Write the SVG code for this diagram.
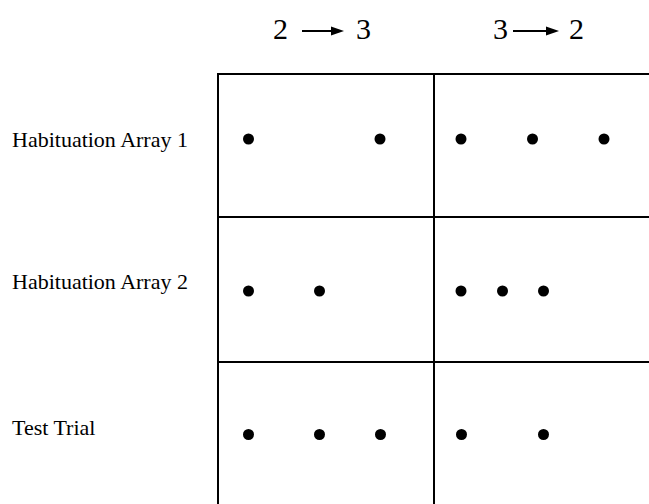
<svg xmlns="http://www.w3.org/2000/svg" width="649" height="504" viewBox="0 0 649 504">
<defs>
<style>
.lbl{font-family:"Liberation Serif","Times New Roman",serif;font-size:22px;fill:#000}
.hdr{font-family:"Liberation Serif","Times New Roman",serif;font-size:30px;fill:#000}
.grid{stroke:#000;stroke-width:2;fill:none}
.dot{fill:#000}
.arr{stroke:#000;stroke-width:2}
</style>
</defs>
<rect width="649" height="504" fill="#fff"/>
<g id="headers">
<g id="h1">
<text class="hdr" x="273" y="39">2</text>
<line class="arr" x1="302" y1="31" x2="334" y2="31"/>
<polygon points="331,26.5 344,31 331,35.5" fill="#000"/>
<text class="hdr" x="356" y="39">3</text>
</g>
<g id="h2">
<text class="hdr" x="493" y="39">3</text>
<line class="arr" x1="513" y1="31" x2="549" y2="31"/>
<polygon points="546,26.5 559,31 546,35.5" fill="#000"/>
<text class="hdr" x="569" y="39">2</text>
</g>
</g>
<g id="row-labels">
<text id="l1" class="lbl" x="12" y="147">Habituation Array 1</text>
<text id="l2" class="lbl" x="12" y="289">Habituation Array 2</text>
<text id="l3" class="lbl" x="12" y="435">Test Trial</text>
</g>
<g id="grid">
<line class="grid" x1="218" y1="74" x2="649" y2="74"/>
<line class="grid" x1="218" y1="217" x2="649" y2="217"/>
<line class="grid" x1="218" y1="362" x2="649" y2="362"/>
<line class="grid" x1="218" y1="73" x2="218" y2="504"/>
<line class="grid" x1="434" y1="73" x2="434" y2="504"/>
</g>
<g id="dots">
<circle class="dot" cx="248.5" cy="139" r="5.5"/>
<circle class="dot" cx="380" cy="139" r="5.5"/>
<circle class="dot" cx="461" cy="139" r="5.5"/>
<circle class="dot" cx="532.5" cy="139" r="5.5"/>
<circle class="dot" cx="604" cy="139" r="5.5"/>
<circle class="dot" cx="248.5" cy="291" r="5.5"/>
<circle class="dot" cx="319.5" cy="291" r="5.5"/>
<circle class="dot" cx="461" cy="291" r="5.5"/>
<circle class="dot" cx="502.5" cy="291" r="5.5"/>
<circle class="dot" cx="543.5" cy="291" r="5.5"/>
<circle class="dot" cx="248.5" cy="434.5" r="5.5"/>
<circle class="dot" cx="319.5" cy="434.5" r="5.5"/>
<circle class="dot" cx="380.5" cy="434.5" r="5.5"/>
<circle class="dot" cx="461.5" cy="434.5" r="5.5"/>
<circle class="dot" cx="543.5" cy="434.5" r="5.5"/>
</g>
</svg>
